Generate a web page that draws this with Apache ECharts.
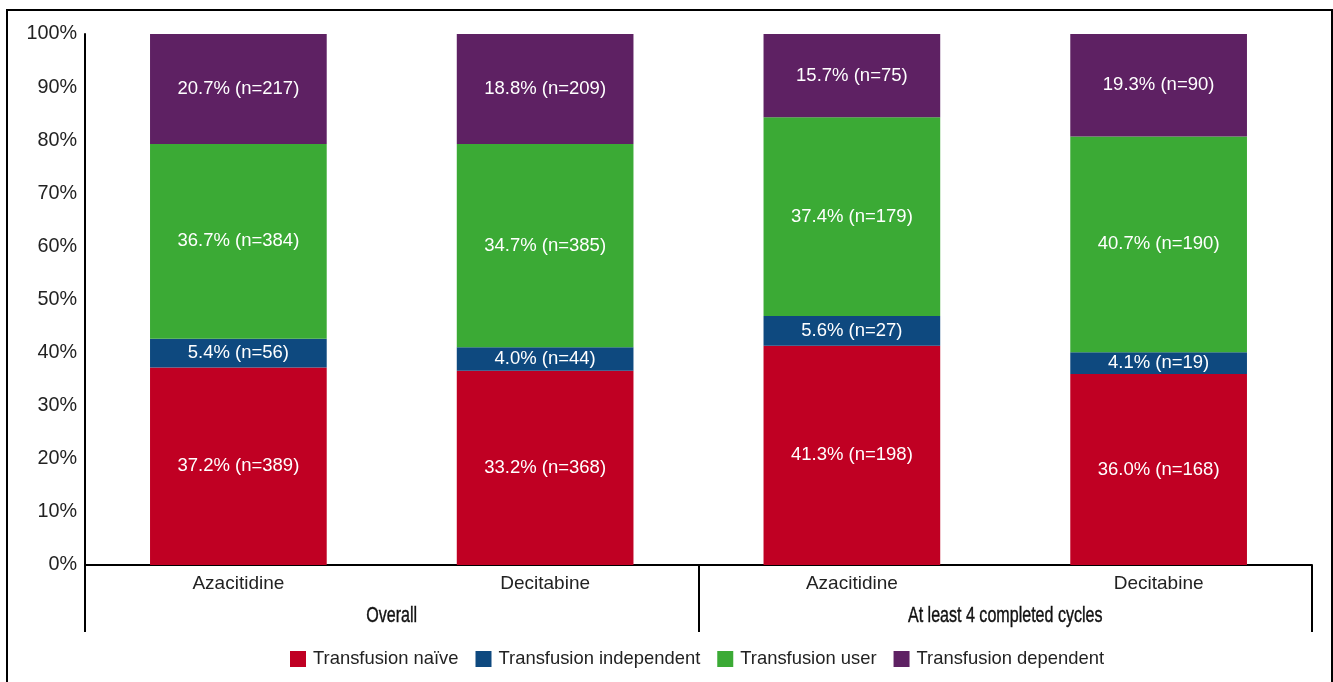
<!DOCTYPE html>
<html>
<head>
<meta charset="utf-8">
<script src="https://cdn.jsdelivr.net/npm/echarts@6/dist/echarts.min.js"></script>
<style>
  html, body { margin: 0; padding: 0; background: #fff; }
  #chart { position: absolute; left: 0; top: 0; width: 1333px; height: 682px; }
  #frame { position: absolute; left: 6px; top: 9px; width: 1323px; height: 690px;
           border: 2px solid #000; pointer-events: none; }
</style>
</head>
<body>
<div id="chart"></div>
<div id="frame"></div>
<script>
// Drugs and cohort groups
const drugs = ['Azacitidine', 'Decitabine', 'Azacitidine', 'Decitabine'];
const groups = ['Overall', 'At least 4 completed cycles'];

// Transfusion status: percentage and patient count per bar
const naivePct = [37.2, 33.2, 41.3, 36.0];
const naiveN = [389, 368, 198, 168];
const independentPct = [5.4, 4.0, 5.6, 4.1];
const independentN = [56, 44, 27, 19];
const userPct = [36.7, 34.7, 37.4, 40.7];
const userN = [384, 385, 179, 190];
const dependentPct = [20.7, 18.8, 15.7, 19.3];
const dependentN = [217, 209, 75, 90];

const seriesDefs = [
  { name: 'Transfusion naïve', pct: naivePct, n: naiveN, color: '#C00023' },
  { name: 'Transfusion independent', pct: independentPct, n: independentN, color: '#0E497F' },
  { name: 'Transfusion user', pct: userPct, n: userN, color: '#3BAA35' },
  { name: 'Transfusion dependent', pct: dependentPct, n: dependentN, color: '#5E2163' }
];

// Each bar is stacked to 100% of its own total
const totals = drugs.map((_, i) => seriesDefs.reduce((s, d) => s + d.pct[i], 0));

const font = 'Liberation Sans, Arial, sans-serif';
const textColor = '#222';

const chart = echarts.init(document.getElementById('chart'));
chart.setOption({
  animation: false,
  backgroundColor: '#fff',
  grid: { left: 85, right: 21, top: 34, bottom: 117 },
  legend: {
    bottom: 9,
    left: 285,
    itemWidth: 16,
    itemHeight: 16,
    itemGap: 17,
    icon: 'rect',
    textStyle: { fontFamily: font, fontSize: 18.4, color: textColor, padding: [0, 0, 0, 2] },
    data: seriesDefs.map(d => d.name)
  },
  xAxis: [
    {
      type: 'category',
      data: drugs,
      position: 'bottom',
      axisLine: { lineStyle: { color: '#000', width: 2 } },
      axisTick: { show: false },
      axisLabel: { fontFamily: font, fontSize: 19, color: textColor, margin: 9 }
    },
    {
      // group separators hanging below the axis
      type: 'category',
      data: groups,
      position: 'bottom',
      axisLine: { show: false },
      axisTick: { show: true, length: 67, lineStyle: { color: '#000', width: 2 } },
      axisLabel: { show: false }
    }
  ],
  yAxis: {
    type: 'value',
    min: 0,
    max: 100,
    interval: 10,
    axisLine: { show: true, lineStyle: { color: '#000', width: 2 } },
    axisTick: { show: false },
    splitLine: { show: false },
    axisLabel: { formatter: '{value}%', fontFamily: font, fontSize: 19.8, color: textColor, margin: 8 }
  },
  series: seriesDefs.map(d => ({
    name: d.name,
    type: 'bar',
    stack: 'all',
    xAxisIndex: 0,
    barWidth: '57.6%',
    itemStyle: { color: d.color },
    label: {
      show: true,
      position: 'inside',
      color: '#fff',
      fontFamily: font,
      fontSize: 18.5,
      formatter: p => d.pct[p.dataIndex].toFixed(1) + '% (n=' + d.n[p.dataIndex] + ')'
    },
    data: d.pct.map((v, i) => v / totals[i] * 100)
  }))
});

// Group titles in a condensed face, centred under their pair of bars
const baseY = chart.convertToPixel({ yAxisIndex: 0 }, 0);
const groupTitles = groups.map((g, gi) => {
  const x0 = chart.convertToPixel({ xAxisIndex: 0 }, gi * 2);
  const x1 = chart.convertToPixel({ xAxisIndex: 0 }, gi * 2 + 1);
  return {
    type: 'text',
    x: (x0 + x1) / 2,
    y: baseY + 51,
    scaleX: 0.73,
    style: {
      text: g,
      fontFamily: font,
      fontSize: 22,
      fill: '#111',
      align: 'center',
      verticalAlign: 'middle',
      stroke: '#111',
      lineWidth: 0.4
    }
  };
});
chart.setOption({ graphic: groupTitles });
</script>
</body>
</html>
